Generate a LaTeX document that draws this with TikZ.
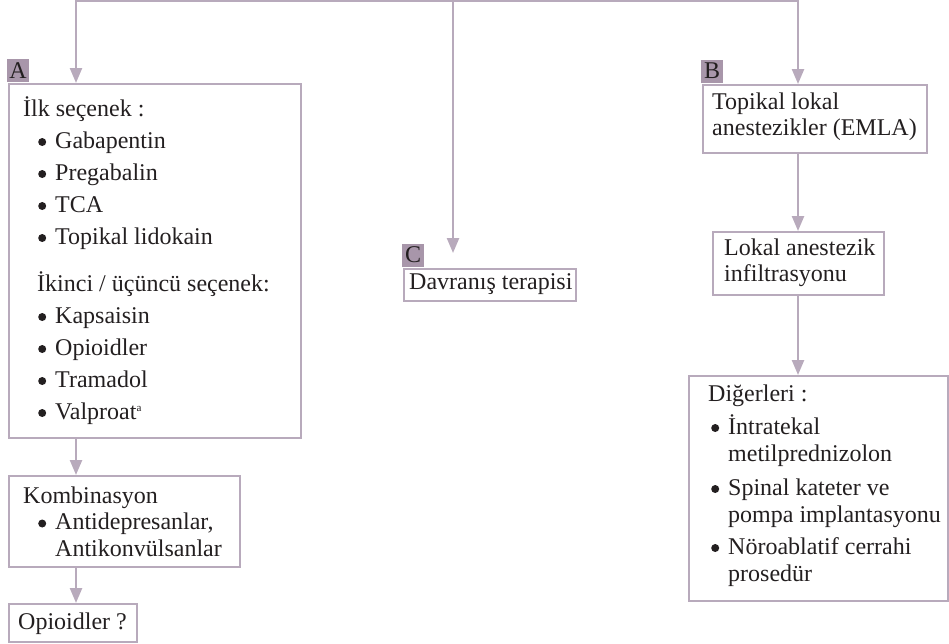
\documentclass[tikz,border=0pt]{standalone}
\usepackage{fontspec}
\setmainfont{Liberation Serif}
\usetikzlibrary{arrows.meta}
\definecolor{linecol}{RGB}{184,170,188}
\definecolor{labfill}{RGB}{168,150,170}
\definecolor{txt}{RGB}{35,31,32}
\newcommand{\boxtext}[4]{\parbox[c][#1][t]{#2}{\fontsize{24pt}{#3}\selectfont\lineskiplimit=-100pt\relax #4}}
\newcommand{\bul}{\makebox[17pt][l]{\tikz[baseline=0pt]\fill[txt] (4pt,6.2pt) circle[radius=4pt];}}
\begin{document}
\begin{tikzpicture}[x=1pt,y=-1pt,
  box/.style={draw=linecol, line width=2.4pt, inner sep=0pt, anchor=north west, text=txt},
  lab/.style={fill=labfill, inner sep=0pt, minimum width=22pt, minimum height=23pt, anchor=south west, font=\fontsize{24pt}{24pt}\selectfont, text=txt},
  conn/.style={draw=linecol, line width=2.4pt},
  arr/.style={conn, -{Triangle[width=12pt,length=15pt]}}]
\useasboundingbox (0,0) rectangle (949,643);

\node[box] (boxA) at (8,83) {\boxtext{354pt}{292pt}{32pt}{%
\hspace*{14pt}\rule{0pt}{32pt}İlk seçenek :\\
\hspace*{29pt}\bul Gabapentin\\
\hspace*{29pt}\bul Pregabalin\\
\hspace*{29pt}\bul TCA\\
\hspace*{29pt}\bul Topikal lidokain\\[15pt]
\hspace*{28pt}İkinci / üçüncü seçenek:\\
\hspace*{29pt}\bul Kapsaisin\\
\hspace*{29pt}\bul Opioidler\\
\hspace*{29pt}\bul Tramadol\\
\hspace*{29pt}\bul Valproat{\fontsize{11pt}{11pt}\selectfont\raisebox{8pt}{a}}}};

\node[box] (komb) at (8,475) {\boxtext{91pt}{231pt}{26.5pt}{%
\hspace*{14pt}\rule{0pt}{27pt}Kombinasyon\\
\hspace*{29pt}\bul Antidepresanlar,\\
\hspace*{46pt}Antikonvülsanlar}};

\node[box] (opi) at (8,603) {\boxtext{38pt}{128pt}{26pt}{%
\hspace*{9pt}\rule{0pt}{25pt}Opioidler ?}};

\node[box] (boxC) at (403,268) {\boxtext{32pt}{172pt}{26pt}{%
\hspace*{5pt}\rule{0pt}{20pt}Davranış terapisi}};

\node[box] (boxB) at (702,84) {\boxtext{68pt}{224pt}{26pt}{%
\hspace*{9pt}\rule{0pt}{24pt}Topikal lokal\\
\hspace*{9pt}anestezikler (EMLA)}};

\node[box] (lokal) at (712,231) {\boxtext{63pt}{171pt}{26pt}{%
\hspace*{11pt}\rule{0pt}{23pt}Lokal anestezik\\
\hspace*{11pt}infiltrasyonu}};

\node[box] (diger) at (688,375) {\boxtext{225pt}{259pt}{27pt}{%
\hspace*{19pt}\rule{0pt}{25pt}Diğerleri :\\[6pt]
\hspace*{22pt}\bul İntratekal\\
\hspace*{39pt}metilprednizolon\\[7pt]
\hspace*{22pt}\bul Spinal kateter ve\\
\hspace*{39pt}pompa implantasyonu\\[5pt]
\hspace*{22pt}\bul Nöroablatif cerrahi\\
\hspace*{39pt}prosedür}};

\node[lab, xshift=-1.2pt, yshift=1.2pt] (la) at (boxA.north west) {A};
\node[lab, xshift=-1.2pt, yshift=1.2pt] (lb) at (boxB.north west) {B};
\node[lab, xshift=-1.2pt, yshift=1.2pt] (lc) at (boxC.north west) {C};

\coordinate (tl) at (76,1.2);
\coordinate (tc) at (453,1.2);
\coordinate (tr) at (798,1.2);
\coordinate (cend) at (453,253);

\draw[conn, line cap=rect] (tl) -- (tr);
\draw[arr] (tl) -- (tl |- boxA.north);
\draw[arr] (tc) -- (cend);
\draw[arr] (tr) -- (tr |- boxB.north);
\draw[arr] (boxB.south -| tr) -- (lokal.north -| tr);
\draw[arr] (lokal.south -| tr) -- (diger.north -| tr);
\draw[arr] (boxA.south -| tl) -- (komb.north -| tl);
\draw[arr] (komb.south -| tl) -- (opi.north -| tl);
\end{tikzpicture}
\end{document}
